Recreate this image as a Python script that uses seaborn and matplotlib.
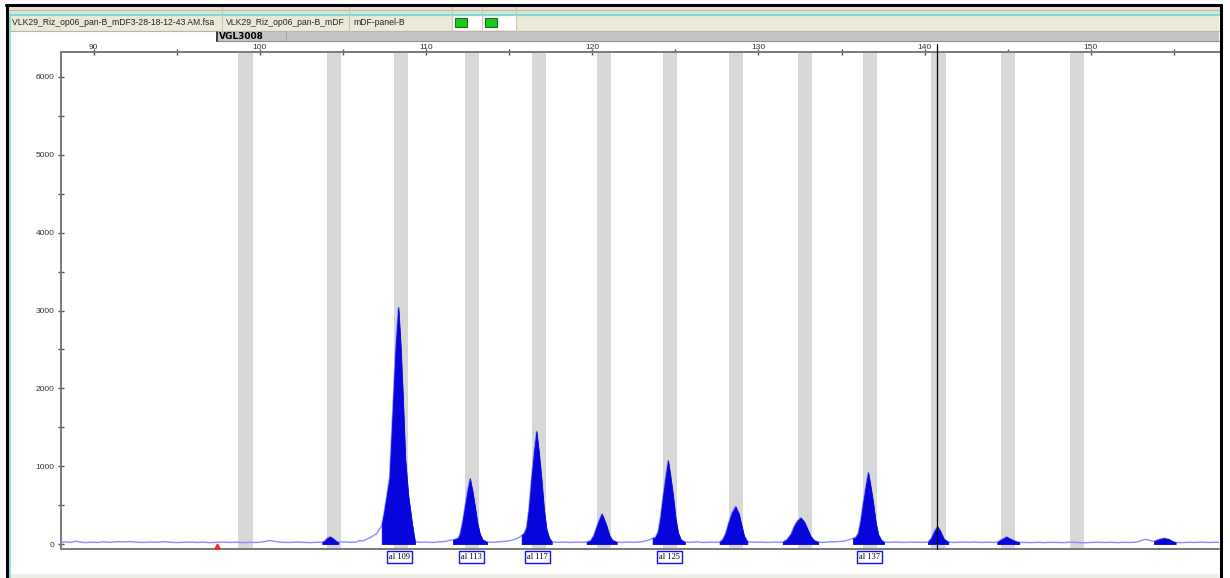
import numpy as np
import pandas as pd
import matplotlib
matplotlib.use("Agg")
import matplotlib.pyplot as plt
from matplotlib.patches import Rectangle
import seaborn as sns

# ---------------- data ----------------
trace_x = [
    88.0, 88.3, 88.6, 88.9, 89.2, 89.5, 89.8, 90.2, 90.6, 91.0, 91.4, 91.8, 92.2, 92.6,
    93.0, 93.4, 93.8, 94.2, 94.6, 95.0, 95.4, 95.8, 96.2, 96.6, 97.0, 97.4, 97.8, 98.2,
    98.6, 99.0, 99.4, 99.8, 100.2, 100.6, 101.0, 101.4, 101.8, 102.2, 102.6, 103.0, 103.4,
    103.75, 103.9, 104.05, 104.22, 104.4, 104.55, 104.72,
    105.0, 105.4, 105.8, 106.0, 106.2, 106.4, 106.62, 106.85, 107.03, 107.2, 107.33,
    107.47, 107.8, 108.03, 108.17, 108.33, 108.47, 108.6, 108.75, 108.93, 109.13, 109.25, 109.33,
    109.6, 110.0, 110.4, 110.8, 111.1, 111.4,
    111.62, 111.8, 111.94, 112.04, 112.19, 112.34, 112.49, 112.64, 112.79, 112.94, 113.09, 113.24, 113.4, 113.67,
    114.0, 114.4, 114.8, 115.1, 115.4, 115.6,
    115.75, 115.9, 116.04, 116.19, 116.34, 116.49, 116.64, 116.79, 116.94, 117.09, 117.24, 117.4, 117.56,
    117.9, 118.3, 118.7, 119.1, 119.4,
    119.66, 119.9, 120.08, 120.27, 120.42, 120.57, 120.72, 120.87, 121.02, 121.2, 121.47,
    121.8, 122.2, 122.6, 123.0, 123.3, 123.5,
    123.63, 123.8, 123.96, 124.11, 124.26, 124.41, 124.56, 124.71, 124.86, 125.01, 125.16, 125.33, 125.57,
    125.9, 126.3, 126.7, 127.1, 127.4,
    127.66, 127.85, 128.02, 128.2, 128.4, 128.62, 128.82, 128.98, 129.13, 129.33,
    129.7, 130.1, 130.5, 130.9, 131.2,
    131.46, 131.7, 131.95, 132.15, 132.35, 132.54, 132.75, 132.95, 133.15, 133.35, 133.59,
    133.9, 134.3, 134.7, 135.0, 135.2, 135.5,
    135.69, 135.85, 136.0, 136.15, 136.3, 136.45, 136.6, 136.75, 136.9, 137.05, 137.2, 137.38, 137.55,
    137.9, 138.3, 138.7, 139.1, 139.5, 139.9,
    140.2, 140.4, 140.6, 140.77, 140.95, 141.15, 141.42,
    141.8, 142.2, 142.6, 143.0, 143.4, 143.8, 144.1,
    144.37, 144.6, 144.92, 145.2, 145.45, 145.69,
    146.0, 146.4, 146.8, 147.2, 147.6, 148.0, 148.4, 148.8, 149.2, 149.6, 150.0, 150.4,
    150.8, 151.2, 151.6, 152.0, 152.4, 152.7,
    152.9, 153.1, 153.3, 153.5, 153.65, 153.8, 154.1, 154.4, 154.7, 154.9, 155.1,
    155.5, 155.9, 156.3, 156.7, 157.1, 157.5, 157.8,
]
trace_y = [
    20, 28, 22, 35, 25, 18, 24, 20, 28, 22, 30, 26, 32, 24,
    20, 26, 22, 30, 24, 18, 22, 26, 20, 24, 18, 22, 26, 20,
    24, 18, 22, 20, 28, 45, 30, 22, 20, 26, 22, 18, 22,
    22, 40, 75, 94, 70, 40, 22,
    28, 22, 25, 45, 40, 60, 80, 110, 135, 195, 240,
    400, 850, 1880, 2540, 3040, 2540, 1900, 1080, 620, 300, 130, 30,
    22, 25, 20, 28, 32, 45,
    55, 65, 80, 130, 280, 480, 680, 842, 680, 480, 265, 125, 55, 25,
    22, 28, 35, 45, 65, 85,
    110, 140, 210, 460, 840, 1170, 1449, 1170, 840, 450, 195, 80, 30,
    22, 25, 20, 25, 22,
    25, 45, 105, 225, 315, 388, 315, 225, 115, 50, 25,
    20, 25, 22, 30, 45, 60,
    75, 85, 160, 350, 620, 860, 1073, 860, 620, 335, 145, 55, 25,
    22, 28, 20, 25, 22,
    25, 60, 135, 270, 400, 483, 385, 240, 105, 30,
    22, 26, 20, 25, 22,
    25, 55, 125, 230, 300, 337, 285, 190, 95, 45, 25,
    22, 28, 30, 35, 40, 58,
    73, 85, 140, 300, 530, 735, 919, 735, 530, 285, 125, 50, 25,
    22, 26, 20, 25, 22, 22,
    25, 75, 170, 224, 160, 65, 25,
    20, 25, 22, 26, 20, 24, 22,
    25, 55, 93, 60, 35, 22,
    20, 18, 22, 18, 22, 20, 18, 24, 20, 16, 20, 24,
    20, 22, 18, 22, 20, 24,
    32, 50, 60, 50, 40, 35, 60, 75, 60, 35, 20,
    18, 22, 20, 24, 20, 22, 20,
]

fill_start = [103.75, 107.33, 111.62, 115.75, 119.66, 123.63, 127.66, 131.46, 135.69, 140.2, 144.37, 153.8]
fill_end = [104.72, 109.33, 113.67, 117.56, 121.47, 125.57, 129.33, 133.59, 137.55, 141.42, 145.69, 155.1]

bin_centers = [99.13, 104.44, 108.50, 112.77, 116.79, 120.70, 124.69, 128.65,
               132.80, 136.73, 140.83, 145.02, 149.14]
bin_width = 0.85

allele_pos = [108.39, 112.72, 116.69, 124.65, 136.67]
allele_text = ["al 109", "al 113", "al 117", "al 125", "al 137"]

cursor_x = 140.77
red_mark_x = 97.4

x_ticks = [90, 100, 110, 120, 130, 140, 150]
y_ticks = [0, 1000, 2000, 3000, 4000, 5000, 6000]

header_cells = ["VLK29_Riz_op06_pan-B_mDF3-28-18-12-43 AM.fsa", "VLK29_Riz_op06_pan-B_mDF", "mDF-panel-B"]
marker_name = "VGL3008"

# ---------------- figure ----------------
sns.set_style("white")
plt.rcParams["font.family"] = ["Liberation Sans", "DejaVu Sans"]

W, H = 1230, 578
fig = plt.figure(figsize=(W / 100, H / 100), dpi=100)
fig.patch.set_facecolor("white")

# overlay axes in pixel coordinates for window decorations
deco = fig.add_axes([0, 0, 1, 1], zorder=0)
deco.set_xlim(0, W)
deco.set_ylim(H, 0)
deco.axis("off")

def rect(x0, y0, x1, y1, fc, ec="none", lw=0, **kw):
    r = Rectangle((x0, y0), x1 - x0, y1 - y0, facecolor=fc, edgecolor=ec, linewidth=lw, **kw)
    deco.add_patch(r)
    return r

# top bands
rect(6, 6, 1220, 14, "#E6E3D6")
deco.plot([6, 1220], [10, 10], color="#BDBAAE", lw=0.8)
rect(9, 15, 1219, 30.5, "#ECE9D8")
deco.plot([9, 1219], [14.5, 14.5], color="#78DCD8", lw=1.6)
deco.plot([9, 1219], [30.5, 30.5], color="#B8B6AA", lw=0.8)
for sx in [222, 349, 452, 482, 516]:
    deco.plot([sx, sx], [6, 30.5], color="#C8C5B8", lw=0.8)
rect(452.5, 15.5, 481.5, 30, "white")
rect(482.5, 15.5, 516, 30, "white")
rect(455, 18, 467, 27, "#1EC81E", ec="#0A7A0A", lw=0.8)
rect(485, 18, 497, 27, "#1EC81E", ec="#0A7A0A", lw=0.8)

cell_x = [12, 226, 353]
cell_r = [221, 348, 451]
for cx, cr, txt in zip(cell_x, cell_r, header_cells):
    t = deco.text(cx, 22.5, txt, fontsize=6.2, color="#222222", va="center", ha="left")
    clip = Rectangle((cx - 2, 15), cr - cx, 15, transform=deco.transData)
    t.set_clip_path(clip)

# marker bar
rect(216, 31.5, 1219, 41, "#C4C4C4")
deco.plot([216, 1219], [41, 41], color="#8E8E8E", lw=0.8)
deco.plot([216.5, 216.5], [31.5, 41], color="#222222", lw=1.2)
deco.plot([286, 286], [31.5, 41], color="#9A9A9A", lw=0.6)
deco.text(219, 36.3, marker_name, fontsize=6.5, fontweight="bold", color="black",
          va="center", ha="left", family="DejaVu Sans")

# bottom strip and frame
rect(9, 574, 1219, 578, "#EEEDE6")
deco.plot([6, 1221], [5, 5], color="black", lw=2.2)
deco.plot([6.5, 6.5], [5, 578], color="black", lw=2.2)
deco.plot([9.5, 9.5], [14, 578], color="#78DCD8", lw=1.2)
deco.plot([1220.5, 1220.5], [5, 578], color="black", lw=2.2)

# ---------------- main plot ----------------
x0, x1 = 61, 1219
ytop, ybot = 52, 549
ax = fig.add_axes([x0 / W, 1 - ybot / H, (x1 - x0) / W, (ybot - ytop) / H], zorder=1)
ax.set_facecolor("white")
ax.set_xlim(88.03, 157.71)
ax.set_ylim(-64, 6321)

for c in bin_centers:
    ax.axvspan(c - bin_width / 2, c + bin_width / 2, color="#D8D8D8", lw=0, zorder=1)

df = pd.DataFrame({"size": trace_x, "rfu": trace_y})
sns.lineplot(data=df, x="size", y="rfu", sort=False, estimator=None, ax=ax,
             color="#8C8CFF", lw=1.0, zorder=3)

tx = np.array(trace_x)
ty = np.array(trace_y)
for s, e in zip(fill_start, fill_end):
    m = (tx >= s - 1e-9) & (tx <= e + 1e-9)
    ax.fill_between(tx[m], 0, ty[m], color="#0505DC", lw=0.6, edgecolor="#0505DC", zorder=4)

ax.axvline(cursor_x, ymin=0, ymax=1.016, color="black", lw=0.9, zorder=5, clip_on=False)
ax.plot([red_mark_x], [-30], marker="^", color="#FF2020", markersize=3.5, zorder=6, clip_on=False)

# allele labels
for p, t in zip(allele_pos, allele_text):
    ax.annotate(t, xy=(p, 0), xycoords=("data", "axes fraction"),
                xytext=(0, -5.6), textcoords="offset points",
                ha="center", va="center", fontsize=6.0, family="Liberation Serif",
                color="black", annotation_clip=False,
                bbox=dict(boxstyle="square,pad=0.22", fc="white", ec="#1010F0", lw=1.0))

# axes styling
for side in ["top", "left", "bottom"]:
    ax.spines[side].set_visible(True)
    ax.spines[side].set_color("#7A7A7A")
    ax.spines[side].set_linewidth(1.4)
ax.spines["right"].set_visible(False)

ax.xaxis.tick_top()
ax.set_xticks(x_ticks)
ax.set_xticks([95, 105, 115, 125, 135, 145, 155], minor=True)
ax.set_xticklabels([str(v) for v in x_ticks])
ax.set_yticks(y_ticks)
ax.set_yticks([500, 1500, 2500, 3500, 4500, 5500], minor=True)
ax.set_yticklabels([str(v) for v in y_ticks])
ax.tick_params(axis="both", which="both", direction="inout", length=5, width=1.0,
               color="#555555", labelsize=6, labelcolor="#333333", pad=2)
ax.tick_params(axis="x", which="both", top=True, bottom=False, labeltop=True,
               labelbottom=False, pad=-1.8)
ax.tick_params(axis="y", which="both", left=True, right=False)
ax.set_xlabel("")
ax.set_ylabel("")
ax.grid(False)

fig.savefig("out.png", dpi=100)
